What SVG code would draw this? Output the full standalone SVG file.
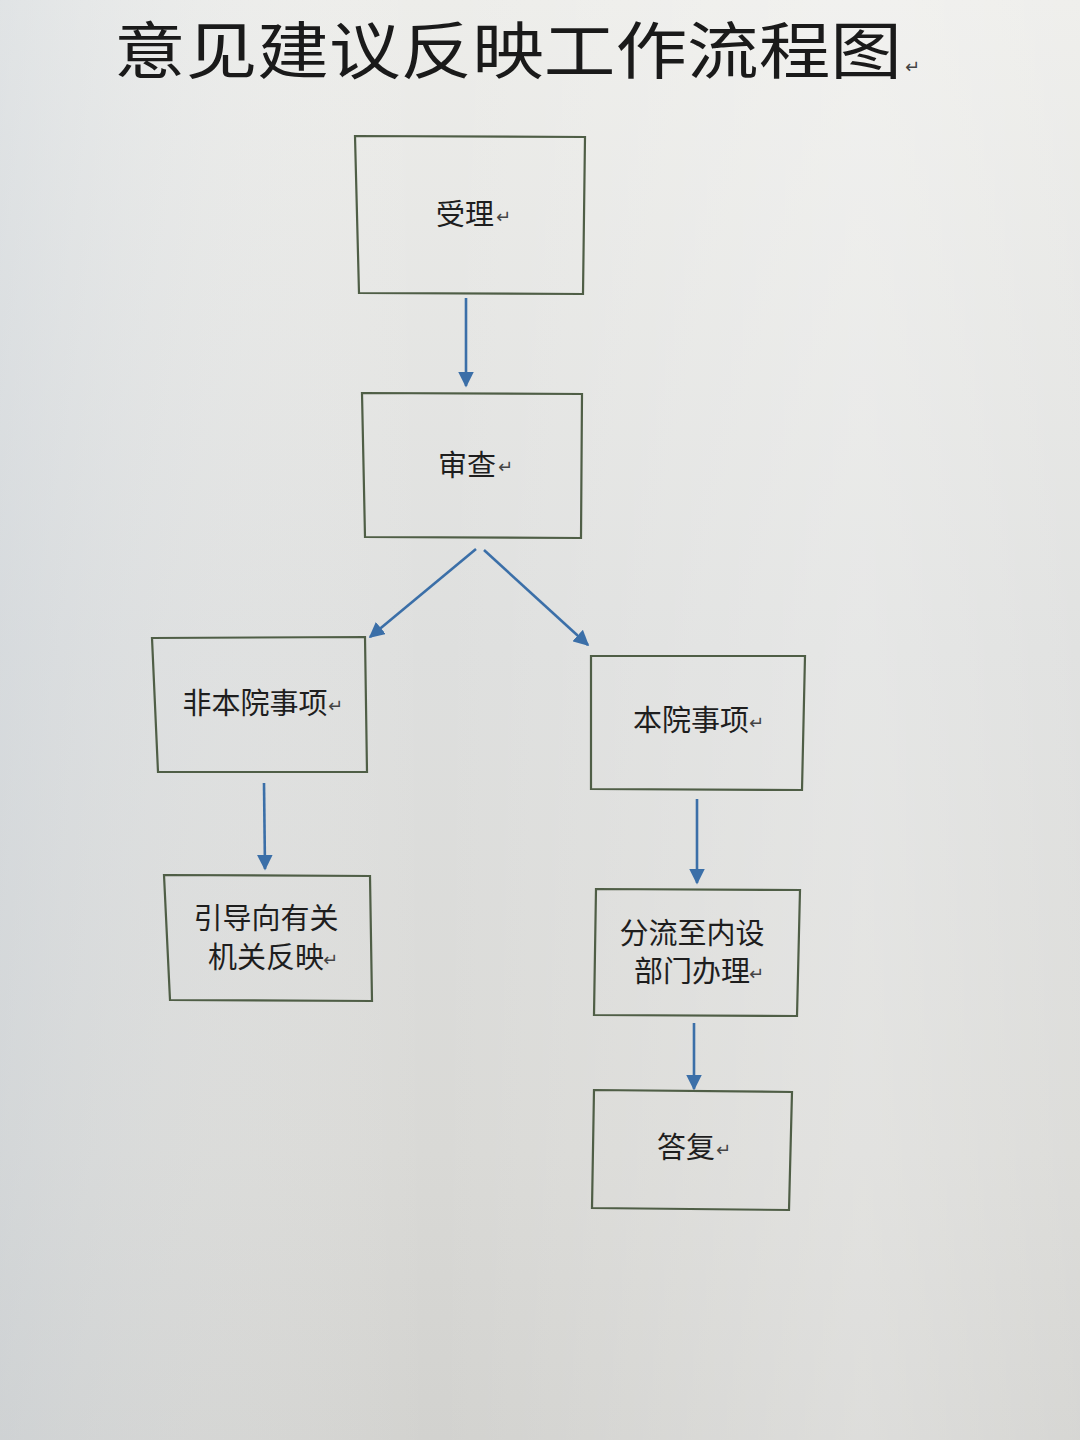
<svg xmlns="http://www.w3.org/2000/svg" width="1080" height="1440" viewBox="0 0 1080 1440">
<defs>
<linearGradient id="bg" x1="0" y1="0" x2="0" y2="1">
<stop offset="0" stop-color="#ededea"/>
<stop offset="0.45" stop-color="#dedfde"/>
<stop offset="0.8" stop-color="#d9d9d6"/>
<stop offset="1" stop-color="#d2d2cf"/>
</linearGradient>
<linearGradient id="side" x1="0" y1="0" x2="1" y2="0">
<stop offset="0" stop-color="#c9d2dc" stop-opacity="0.35"/>
<stop offset="0.4" stop-color="#ffffff" stop-opacity="0"/>
<stop offset="0.8" stop-color="#ffffff" stop-opacity="0.25"/>
<stop offset="1" stop-color="#ffffff" stop-opacity="0.1"/>
</linearGradient>
<marker id="ah" viewBox="0 0 10 10" refX="9" refY="5" markerWidth="6" markerHeight="6" orient="auto" markerUnits="strokeWidth">
<path d="M0,0 L10,5 L0,10 Z" fill="#3b6fa8"/>
</marker>
<style>
.box{fill:none;stroke:#4f5e46;stroke-width:2.2}
.t{font-family:"Noto Sans CJK SC","Noto Sans",sans-serif;font-size:29px;fill:#1e1e1e;text-anchor:middle}
.r{font-family:"DejaVu Sans",sans-serif;font-size:18px;fill:#444}
.title{font-family:"Noto Sans CJK SC",sans-serif;font-size:62px;fill:#1a1a1a}
.c{fill:none;stroke:#3b6fa8;stroke-width:2.6;marker-end:url(#ah)}
</style>
</defs>
<rect x="0" y="0" width="1080" height="1440" fill="url(#bg)"/>
<rect x="0" y="0" width="1080" height="1440" fill="url(#side)"/>

<g id="title">
<text class="title" x="114" y="74" textLength="788" lengthAdjust="spacingAndGlyphs">意见建议反映工作流程图</text>
<text class="r" x="905" y="73">↵</text>
</g>

<g id="connectors">
<line class="c" x1="466" y1="298" x2="466" y2="386"/>
<line class="c" x1="476" y1="549" x2="370" y2="637"/>
<line class="c" x1="484" y1="550" x2="588" y2="645"/>
<line class="c" x1="264" y1="783" x2="265" y2="869"/>
<line class="c" x1="697" y1="799" x2="697" y2="883"/>
<line class="c" x1="694" y1="1023" x2="694" y2="1089"/>
</g>

<g id="n1">
<polygon class="box" points="355,136 585,137 583,294 359,293"/>
<text class="t" x="465" y="225">受理</text><text class="r" x="496" y="223">↵</text>
</g>
<g id="n2">
<polygon class="box" points="362,393 582,394 581,538 365,537"/>
<text class="t" x="467" y="476">审查</text><text class="r" x="498" y="473">↵</text>
</g>
<g id="n3">
<polygon class="box" points="152,638 365,637 367,772 158,772"/>
<text class="t" x="255" y="714">非本院事项</text><text class="r" x="328" y="712">↵</text>
</g>
<g id="n4">
<polygon class="box" points="591,656 805,656 802,790 591,789"/>
<text class="t" x="691" y="731">本院事项</text><text class="r" x="749" y="729">↵</text>
</g>
<g id="n5">
<polygon class="box" points="164,875 370,876 372,1001 170,1000"/>
<text class="t" x="266" y="929">引导向有关</text>
<text class="t" x="266" y="968">机关反映</text><text class="r" x="323" y="966">↵</text>
</g>
<g id="n6">
<polygon class="box" points="596,889 800,890 797,1016 594,1015"/>
<text class="t" x="692" y="944">分流至内设</text>
<text class="t" x="692" y="982">部门办理</text><text class="r" x="749" y="980">↵</text>
</g>
<g id="n7">
<polygon class="box" points="594,1090 792,1092 789,1210 592,1208"/>
<text class="t" x="686" y="1158">答复</text><text class="r" x="716" y="1156">↵</text>
</g>
</svg>
